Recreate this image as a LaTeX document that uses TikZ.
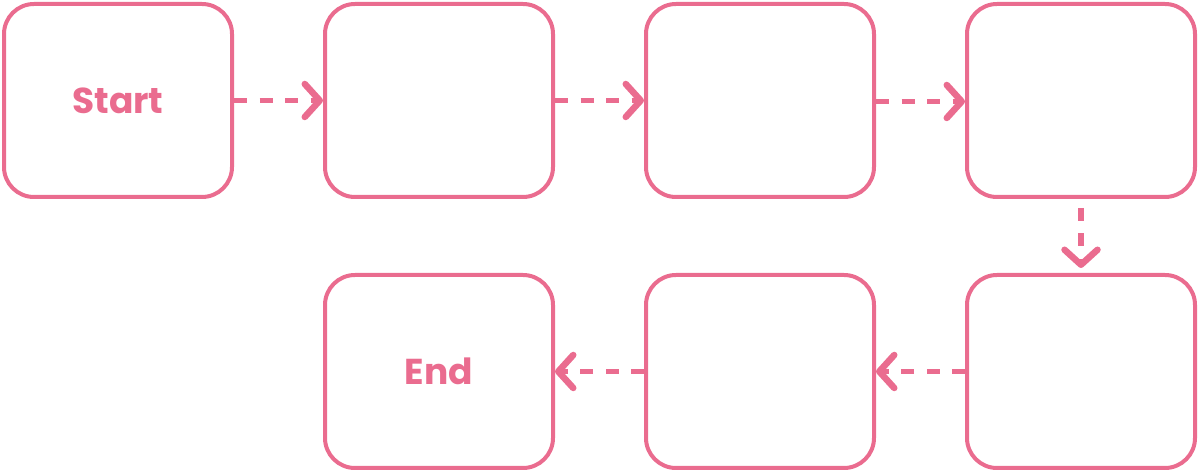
\documentclass[tikz,border=0pt]{standalone}
\usepackage{fontspec}
\setmainfont{Poppins}
\usetikzlibrary{arrows.meta}
\definecolor{pk}{HTML}{EA6C8F}
\begin{document}
\begin{tikzpicture}[x=1pt,y=1pt,
  box/.style={draw=pk,line width=4pt,rounded corners=30pt,minimum width=228pt,minimum height=193pt,inner sep=0pt,
    font=\fontsize{36}{40}\selectfont\bfseries,text=pk},
  conn/.style={draw=pk,line width=5.5pt,dash pattern=on 13pt off 12.5pt,
    -{Straight Barb[length=15pt,width=33pt,line width=6.5pt,round]}}]
\useasboundingbox (0,0) rectangle (1200,473);
\node[box] (b1) at (118,372.5) {Start};
\node[box] (b2) at (439,372.5) {};
\node[box] (b3) at (760,372.5) {};
\node[box] (b4) at (1081,372.5) {};
\node[box] (b5) at (1081,101.5) {};
\node[box] (b6) at (760,101.5) {};
\node[box] (b7) at (439,101.5) {End};
\draw[conn] (b1.east) -- (b2.west);
\draw[conn] (b2.east) -- (b3.west);
\draw[conn] ([yshift=-1pt]b3.east) -- ([yshift=-1pt]b4.west);
\draw[conn] ([yshift=-9pt]b4.south) -- ([yshift=5pt]b5.north);
\draw[conn] (b5.west) -- (b6.east);
\draw[conn] (b6.west) -- (b7.east);
\end{tikzpicture}
\end{document}
